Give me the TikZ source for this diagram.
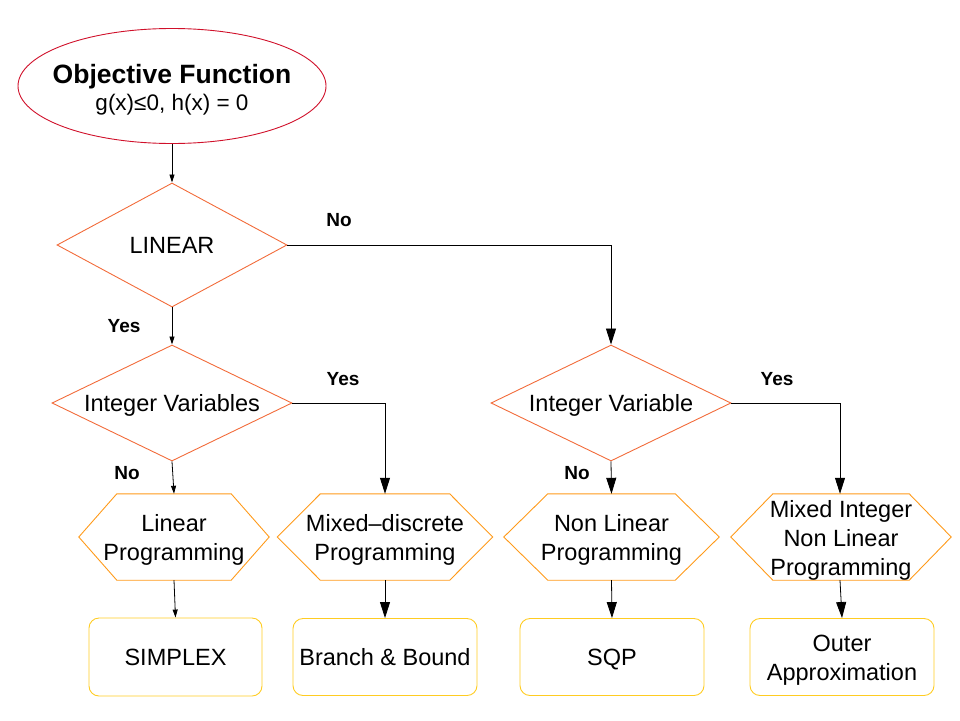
\documentclass[tikz,border=0pt]{standalone}
\usepackage{fontspec}
\setmainfont{Liberation Sans}
\usetikzlibrary{shapes.geometric,arrows.meta}
\definecolor{ellred}{HTML}{D0102A}
\definecolor{diaorange}{HTML}{F26B3A}
\definecolor{hexorange}{HTML}{FF9A1A}
\definecolor{boxgold}{HTML}{FFCC22}
\tikzset{
  txt/.style={font=\fontsize{23.5}{29}\selectfont, align=center},
  oneline/.style={text height=17pt, text depth=0pt},
  ell/.style={ellipse, draw=ellred, line width=0.9pt, minimum width=308, minimum height=115, inner xsep=-20pt, inner ysep=0pt, align=center},
  dia/.style={diamond, draw=diaorange, line width=0.9pt, inner sep=0pt, txt, oneline},
  hexbox/.style={rectangle, draw=none, inner sep=0pt, minimum height=92, txt},
  hexline/.style={draw=hexorange, line width=0.9pt},
  rbox/.style={rectangle, rounded corners=10, draw=boxgold, line width=0.9pt, inner sep=0pt, txt},
  lbl/.style={font=\fontsize{19}{22}\selectfont\bfseries},
  conn/.style={line width=0.8pt},
  sarr/.style={conn, -{Triangle[width=5,length=8]}},
  barr/.style={conn, -{Triangle[width=10,length=16]}},
}
% hexagon drawn round a node 92 high whose centre sits 3 below the hexagon's centre
\newcommand{\hexdraw}[2]{%
  \draw[hexline] ([xshift=#2]#1.north west) -- ([xshift=-#2]#1.north east) -- ([yshift=3]#1.east)
    -- ([xshift=-#2,yshift=6]#1.south east) -- ([xshift=#2,yshift=6]#1.south west) -- ([yshift=3]#1.west) -- cycle;}
\begin{document}
\begin{tikzpicture}[x=1pt,y=-1pt]
\useasboundingbox (0,0) rectangle (960,720);
% start
\node[ell] (obj) at (172,86) {{\fontsize{26.5}{30}\selectfont\bfseries \rule{0pt}{26pt}Objective Function}\\[4pt]{\fontsize{22.5}{28}\selectfont g(x)≤0, h(x) = 0}};
% decisions
\node[dia, aspect=1.85, minimum width=230, minimum height=124] (lin) at (172,245) {LINEAR};
\node[dia, aspect=2.07, minimum width=240, minimum height=116] (iv1) at (172,403) {Integer Variables};
\node[dia, aspect=2.07, minimum width=240, minimum height=116] (iv2) at (611,403) {Integer Variable};
% hexagons (shape centre at y=537)
\node[hexbox, minimum width=190] (lp) at (174,540) {Linear\\Programming};
\node[hexbox, minimum width=215] (md) at (385,540) {Mixed--discrete\\Programming};
\node[hexbox, minimum width=215] (nlp) at (611.5,540) {Non Linear\\Programming};
\node[hexbox, minimum width=220] (minlp) at (841,540) {Mixed Integer\\Non Linear\\Programming};
\hexdraw{lp}{38}
\hexdraw{md}{43}
\hexdraw{nlp}{44}
\hexdraw{minlp}{42}
% result boxes
\node[rbox, oneline, minimum width=173, minimum height=78] (sim) at (175.5,657) {SIMPLEX};
\node[rbox, oneline, minimum width=184, minimum height=77] (bb) at (385,657) {Branch \& Bound};
\node[rbox, oneline, minimum width=184, minimum height=77] (sqp) at (612,657) {SQP};
\node[rbox, minimum width=184, minimum height=77] (oa) at (842,657) {\rule{0pt}{23pt}Outer\\Approximation};
% connectors
\draw[sarr] (obj.south) -- (lin.north);
\draw[sarr] (lin.south) -- (iv1.north);
\draw[barr] (lin.east) -| (iv2.north);
\draw[sarr] (iv1.south) -- (lp.north);
\draw[barr] (iv1.east) -| (md.north);
\draw[barr] (iv2.south) -- (nlp.north);
\draw[barr] (iv2.east) -| ([xshift=-1]minlp.north);
\draw[sarr] ([yshift=6]lp.south) -- (sim.north);
\draw[barr] ([yshift=6]md.south) -- (bb.north);
\draw[barr] ([yshift=6]nlp.south) -- (sqp.north);
\draw[barr] ([xshift=-1,yshift=6]minlp.south) -- (oa.north);
% labels
\node[lbl] (lno) at (339,220) {No};
\node[lbl] (lyes) at (124,326) {Yes};
\node[lbl] (iv1yes) at (343,379) {Yes};
\node[lbl] (iv1no) at (127,473) {No};
\node[lbl] (iv2no) at (577,473) {No};
\node[lbl] (iv2yes) at (777,379) {Yes};
\end{tikzpicture}
\end{document}
